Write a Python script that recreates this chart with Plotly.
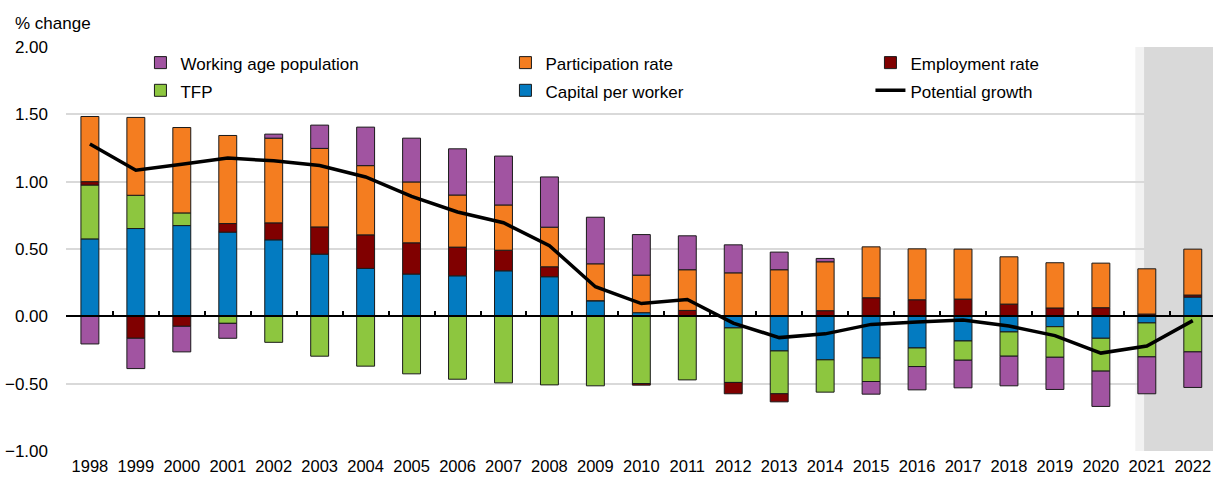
import plotly.graph_objects as go

years = ["1998", "1999", "2000", "2001", "2002", "2003", "2004", "2005", "2006", "2007",
         "2008", "2009", "2010", "2011", "2012", "2013", "2014", "2015", "2016", "2017",
         "2018", "2019", "2020", "2021", "2022"]

capital = [0.575, 0.652, 0.674, 0.625, 0.568, 0.462, 0.356, 0.314, 0.301, 0.338,
           0.294, 0.116, 0.027, 0.0, -0.086, -0.257, -0.323, -0.309, -0.235, -0.183,
           -0.116, -0.077, -0.163, -0.049, 0.143]
tfp = [0.400, 0.247, 0.094, -0.052, -0.193, -0.296, -0.370, -0.427, -0.467, -0.494,
       -0.509, -0.516, -0.499, -0.472, -0.405, -0.318, -0.240, -0.175, -0.138, -0.143,
       -0.180, -0.227, -0.244, -0.252, -0.264]
employment = [0.025, -0.163, -0.074, 0.064, 0.126, 0.202, 0.249, 0.232, 0.213, 0.153,
              0.074, 0.0, -0.012, 0.044, -0.084, -0.060, 0.042, 0.138, 0.123, 0.128,
              0.091, 0.062, 0.064, 0.017, 0.015]
participation = [0.484, 0.578, 0.634, 0.654, 0.629, 0.583, 0.514, 0.452, 0.387, 0.336,
                 0.294, 0.274, 0.279, 0.302, 0.323, 0.346, 0.363, 0.378, 0.378, 0.371,
                 0.351, 0.336, 0.331, 0.336, 0.341]
working_age = [-0.205, -0.225, -0.190, -0.111, 0.030, 0.173, 0.286, 0.325, 0.343, 0.363,
               0.373, 0.346, 0.301, 0.252, 0.208, 0.131, 0.025, -0.094, -0.173, -0.205,
               -0.220, -0.239, -0.262, -0.274, -0.264]
potential = [1.28, 1.085, 1.13, 1.175, 1.155, 1.12, 1.035, 0.89, 0.775, 0.695,
             0.525, 0.22, 0.095, 0.125, -0.05, -0.158, -0.13, -0.06, -0.042, -0.028,
             -0.072, -0.143, -0.273, -0.22, -0.032]

y_ticks = [-1.0, -0.5, 0.0, 0.5, 1.0, 1.5, 2.0]

FONT = "Liberation Sans, Arial, sans-serif"
OUTLINE = dict(color="#1a1a1a", width=1)


def legend_label(text):
    return '<span style="font-size:17px">' + text + "</span>"


series = [
    ("Capital per worker", capital, "#037BC1", 5),
    ("TFP", tfp, "#8DC63F", 4),
    ("Employment rate", employment, "#800000", 3),
    ("Participation rate", participation, "#F47D20", 2),
    ("Working age population", working_age, "#A154A1", 1),
]

fig = go.Figure()
for name, vals, color, rank in series:
    fig.add_trace(go.Bar(
        x=years, y=vals, name=legend_label(name), legendrank=rank,
        marker=dict(color=color, line=OUTLINE), width=0.39,
    ))

fig.add_trace(go.Scatter(
    x=years, y=potential, name=legend_label("Potential growth"), mode="lines",
    legendrank=6, line=dict(color="black", width=3.5),
))

# empty helper trace so the zero-line axis (x2) with its boundary ticks is drawn
fig.add_trace(go.Scatter(x=[], y=[], xaxis="x2", showlegend=False, hoverinfo="skip"))

n = len(years)
XR = [-0.52, 24.44]
fig.update_layout(
    width=1213, height=477,
    margin=dict(l=66, r=0, t=47, b=26, autoexpand=False),
    paper_bgcolor="white", plot_bgcolor="white",
    barmode="relative",
    font=dict(family=FONT, size=17, color="black"),
    showlegend=True,
    legend=dict(
        orientation="h", x=0.0649, xanchor="left", y=1.008, yanchor="top",
        bgcolor="rgba(0,0,0,0)", font=dict(size=19),
        entrywidth=320, entrywidthmode="pixels", traceorder="normal",
    ),
    xaxis=dict(
        type="category", categoryorder="array", categoryarray=years,
        range=XR, showgrid=False, zeroline=False, showline=False,
        ticks="", ticklabelstandoff=3, tickfont=dict(size=16.5),
    ),
    xaxis2=dict(
        overlaying="x", anchor="free", position=1/3, side="bottom",
        range=XR, showgrid=False, zeroline=False,
        showline=True, linecolor="black", linewidth=1.5,
        ticks="inside", ticklen=5, tickwidth=1.5, tickcolor="black",
        tickmode="array", tickvals=[i - 0.5 for i in range(n + 1)],
        showticklabels=False,
    ),
    yaxis=dict(
        range=[-1.0, 2.0], tickvals=y_ticks, tickformat=".2f",
        showgrid=True, gridcolor="#d9d9d9", gridwidth=1.5,
        zeroline=False, showline=False, ticks="", ticklabelstandoff=17,
        tickfont=dict(size=17),
    ),
    shapes=[
        dict(type="rect", xref="x", yref="paper", x0=22.75, x1=22.94, y0=0, y1=1,
             fillcolor="#f2f2f2", line=dict(width=0), layer="below"),
        dict(type="rect", xref="x", yref="paper", x0=22.94, x1=XR[1], y0=0, y1=1,
             fillcolor="#d9d9d9", line=dict(width=0), layer="below"),
    ],
    annotations=[
        dict(text="% change", xref="paper", yref="paper", x=-0.0462, y=1.059,
             xanchor="left", yanchor="middle", showarrow=False, font=dict(size=17)),
    ],
)

fig.write_html("out.html", config={"displayModeBar": False},
               post_script="document.body.style.margin='0';")
